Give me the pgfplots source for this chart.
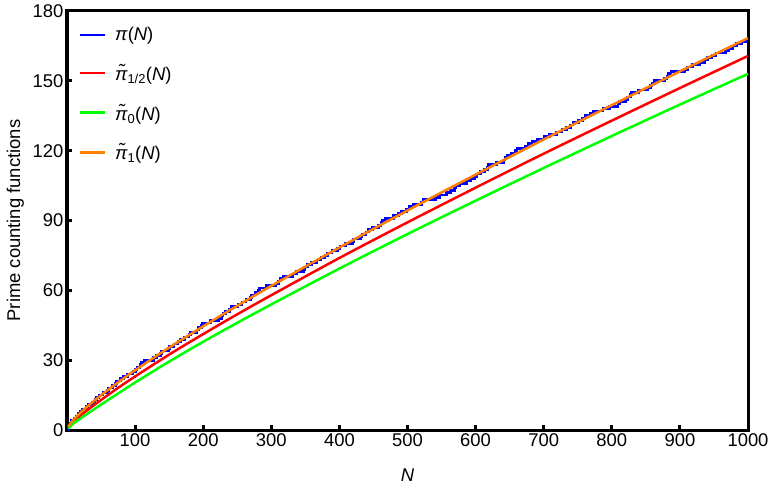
\documentclass[border=0pt]{standalone}
\usepackage{fontspec}
\setmainfont{Liberation Sans}
\usepackage{pgfplots}
\pgfplotsset{compat=1.18}

\definecolor{piblue}{rgb}{0,0,1}
\definecolor{pired}{rgb}{1,0,0}
\definecolor{pigreen}{rgb}{0,1,0}
\definecolor{piorange}{rgb}{1,0.5,0}

\newcommand{\chartfont}{\fontsize{18.5}{21}\selectfont}

\begin{document}
\begin{tikzpicture}
\begin{axis}[
  at={(0,0)}, anchor=south west,
  scale only axis,
  width=681bp, height=419bp,
  xmin=0, xmax=1000, ymin=0, ymax=180,
  xtick={100,200,...,1000},
  ytick={0,30,...,180},
  axis line style={line width=3bp},
  major tick style={line width=3bp, black},
  major tick length=5bp,
  tick align=inside,
  xtick pos=left, ytick pos=left,
  /pgf/number format/assume math mode=true,
  /pgf/number format/1000 sep={},
  tick label style={font=\chartfont},
  xlabel={\textit{N}},
  ylabel={Prime counting functions},
  label style={font=\chartfont},
  xlabel style={yshift=-15bp},
  ylabel style={yshift=2bp},
  legend style={at={(0.0123,0.971)}, anchor=north west, draw=none, fill=none,
    font=\chartfont, row sep=18bp},
  legend cell align=left,
  legend image code/.code={\draw[#1, line width=2.5bp] (0bp,0bp) -- (25bp,0bp);
    \path (32bp,0bp);},
]
\addplot[const plot, color=piblue, line width=2.7bp] coordinates {
(1,0)(2,1)(3,2)(5,3)(7,4)(11,5)(13,6)(17,7)(19,8)(23,9)(29,10)(31,11)(37,12)(41,13)(43,14)(47,15)(53,16)(59,17)(61,18)(67,19)(71,20)(73,21)(79,22)(83,23)(89,24)(97,25)
(101,26)(103,27)(107,28)(109,29)(113,30)(127,31)(131,32)(137,33)(139,34)(149,35)(151,36)(157,37)(163,38)(167,39)(173,40)(179,41)(181,42)(191,43)(193,44)(197,45)(199,46)
(211,47)(223,48)(227,49)(229,50)(233,51)(239,52)(241,53)(251,54)(257,55)(263,56)(269,57)(271,58)(277,59)(281,60)(283,61)(293,62)
(307,63)(311,64)(313,65)(317,66)(331,67)(337,68)(347,69)(349,70)(353,71)(359,72)(367,73)(373,74)(379,75)(383,76)(389,77)(397,78)
(401,79)(409,80)(419,81)(421,82)(431,83)(433,84)(439,85)(443,86)(449,87)(457,88)(461,89)(463,90)(467,91)(479,92)(487,93)(491,94)(499,95)
(503,96)(509,97)(521,98)(523,99)(541,100)(547,101)(557,102)(563,103)(569,104)(571,105)(577,106)(587,107)(593,108)(599,109)
(601,110)(607,111)(613,112)(617,113)(619,114)(631,115)(641,116)(643,117)(647,118)(653,119)(659,120)(661,121)(673,122)(677,123)(683,124)(691,125)
(701,126)(709,127)(719,128)(727,129)(733,130)(739,131)(743,132)(751,133)(757,134)(761,135)(769,136)(773,137)(787,138)(797,139)
(809,140)(811,141)(821,142)(823,143)(827,144)(829,145)(839,146)(853,147)(857,148)(859,149)(863,150)(877,151)(881,152)(883,153)(887,154)
(907,155)(911,156)(919,157)(929,158)(937,159)(941,160)(947,161)(953,162)(967,163)(971,164)(977,165)(983,166)(991,167)(997,168)(1000,168)
};
\addlegendentry{\textit{π}(\textit{N})}
\addplot[smooth, color=pired, line width=2.5bp] coordinates {
(2,1.07)(5,2.15)(10,3.73)(20,6.25)(30,8.58)(50,12.9)(75,18.1)(100,23.0)(150,32.4)(200,41.2)(250,49.7)(300,57.9)(400,73.9)(500,89.2)(600,104.1)(700,118.7)(800,132.9)(900,146.9)(1000,160.7)
};
\addlegendentry{\textit{π̃}\textsubscript{1/2}(\textit{N})}
\addplot[smooth, color=pigreen, line width=2.5bp] coordinates {
(2,0.6)(5,1.6)(10,2.9)(20,5.0)(30,7.0)(50,10.9)(75,15.7)(100,20.4)(150,29.4)(200,37.9)(250,46.05)(300,53.95)(400,69.35)(500,84.15)(600,98.5)(700,112.55)(800,126.3)(900,139.8)(1000,153.0)
};
\addlegendentry{\textit{π̃}\textsubscript{0}(\textit{N})}
\addplot[smooth, color=piorange, line width=2.5bp] coordinates {
(2,1.54)(5,2.7)(10,4.56)(20,7.49)(30,10.15)(50,14.93)(75,20.46)(100,25.66)(150,35.4)(200,44.55)(250,53.35)(300,61.9)(400,78.4)(500,94.3)(600,109.7)(700,124.8)(800,139.55)(900,154.06)(1000,168.36)
};
\addlegendentry{\textit{π̃}\textsubscript{1}(\textit{N})}
\end{axis}
\pgfresetboundingbox
\useasboundingbox (-67bp,-58bp) rectangle (701bp,430bp);
\end{tikzpicture}
\end{document}
